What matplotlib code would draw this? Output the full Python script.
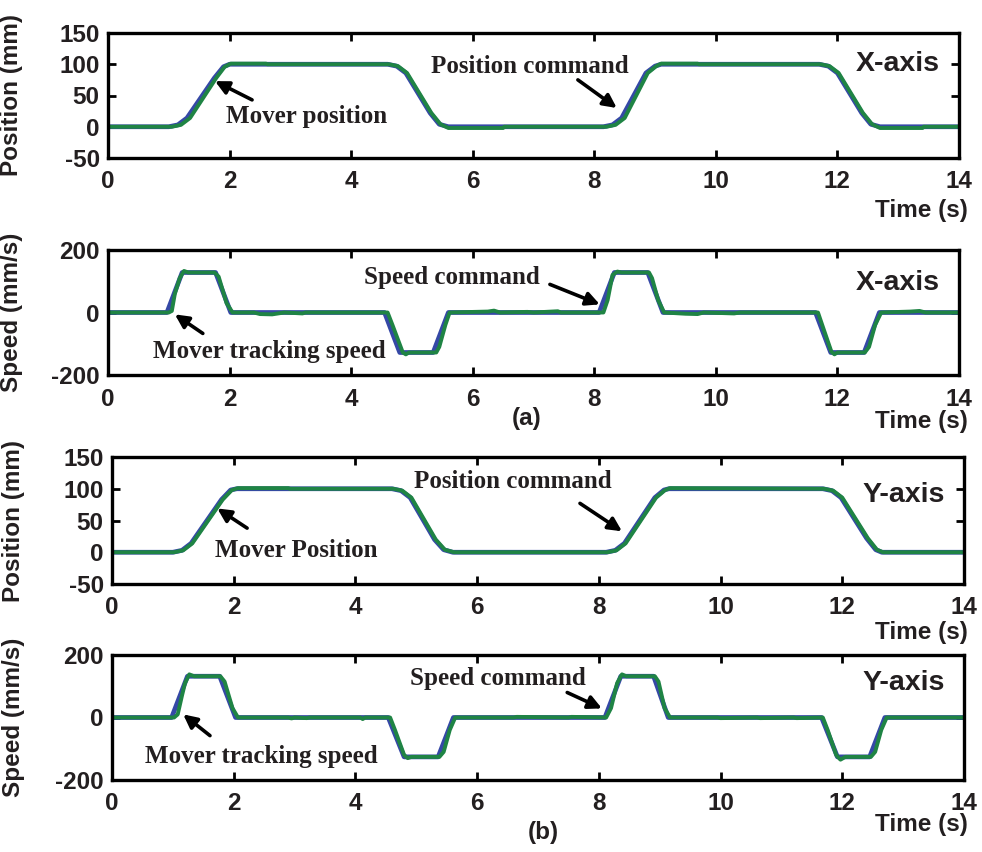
import numpy as np
import matplotlib
matplotlib.use('Agg')
import matplotlib.pyplot as plt

# fonts: Arial-like for axes, Times-like for the annotations
plt.rcParams['font.family'] = 'Liberation Sans'
plt.rcParams['font.weight'] = 'bold'
plt.rcParams['axes.unicode_minus'] = False
serif = 'Liberation Serif'

blue = '#3548a6'
green = '#1f8444'
ink = '#231f20'

# ---------------- data ----------------
# X-axis position (mm)
xpos_cmd_t = [0, 1.0, 1.15, 1.3, 1.75, 1.9, 2.0, 4.6, 4.75, 4.9, 5.3, 5.45, 5.6,
              8.15, 8.3, 8.45, 8.85, 9.0, 9.1, 11.7, 11.85, 12.0, 12.4, 12.55, 12.7, 14]
xpos_cmd = [0, 0, 3, 14, 78, 96, 100, 100, 97, 86, 22, 4, 0,
            0, 3, 14, 86, 97, 100, 100, 97, 86, 22, 4, 0, 0]
xpos_mov_t = [0, 1.05, 1.2, 1.35, 1.78, 1.92, 2.02, 2.6, 2.62, 4.62, 4.77, 4.92, 5.32, 5.47,
              5.6, 6.5, 6.52, 8.2, 8.35, 8.5, 8.88, 9.02, 9.1, 9.7, 9.72, 11.72, 11.87,
              12.02, 12.42, 12.57, 12.7, 13.4, 13.42, 14]
xpos_mov = [0, 0, 3, 14, 78, 96, 101, 101, 100, 100, 97, 86, 22, 4,
            -2, -2, 0, 0, 3, 14, 86, 97, 101, 101, 100, 100, 97,
            86, 22, 4, -2, -2, 0, 0]

# X-axis speed (mm/s)
xspd_cmd_t = [0, 0.97, 1.22, 1.77, 2.02, 4.55, 4.8, 5.35, 5.6, 8.08, 8.33, 8.88, 9.13,
              11.64, 11.89, 12.44, 12.69, 14]
xspd_cmd = [0, 0, 128, 128, 0, 0, -128, -128, 0, 0, 128, 128, 0, 0, -128, -128, 0, 0]
xspd_mov_t = [0, 1.0, 1.05, 1.1, 1.18, 1.25, 1.32, 1.75, 1.82, 1.95, 2.05, 2.4, 2.5, 2.7,
              2.8, 2.9, 3.2, 3.25, 4.6, 4.68, 4.85, 4.9, 4.95, 5.4, 5.45, 5.55, 5.62,
              6.25, 6.35, 6.45, 6.9, 7.0, 7.4, 7.45, 8.15, 8.22, 8.3, 8.38, 8.45, 8.9,
              8.95, 9.05, 9.15, 9.5, 9.7, 9.8, 10.3, 10.4, 11.68, 11.75, 11.9, 11.95,
              12.0, 12.45, 12.52, 12.62, 12.72, 13.2, 13.35, 13.45, 14]
xspd_mov = [0, 0, 5, 60, 110, 133, 128, 128, 115, 30, 0, 0, -5, -6,
            -3, 0, -3, 0, 0, -40, -128, -134, -128, -128, -110, -40, 0,
            3, 6, 0, 2, 0, 4, 0, 0, 40, 120, 131, 128, 128,
            110, 40, 0, -4, -5, 0, -3, 0, 0, -40, -125, -134,
            -128, -128, -110, -40, 0, 3, 5, 0, 0]

# Y-axis position (mm)
ypos_cmd_t = [0, 1.0, 1.15, 1.3, 1.8, 1.95, 2.05, 4.6, 4.75, 4.9, 5.3, 5.45, 5.6,
              8.12, 8.27, 8.42, 8.92, 9.07, 9.15, 11.68, 11.83, 11.98, 12.4, 12.55, 12.65, 14]
ypos_cmd = [0, 0, 3, 14, 83, 98, 100, 100, 97, 86, 20, 4, 0,
            0, 3, 14, 86, 98, 100, 100, 97, 86, 22, 4, 0, 0]
ypos_mov_t = [0, 1.02, 1.17, 1.32, 1.82, 1.97, 2.07, 2.9, 2.92, 4.62, 4.77, 4.92, 5.32,
              5.47, 5.62, 8.14, 8.29, 8.44, 8.94, 9.09, 9.17, 11.7, 11.85, 12.0, 12.42,
              12.57, 12.67, 14]
ypos_mov = [0, 0, 3, 14, 83, 98, 101, 101, 100, 100, 97, 86, 20,
            4, 0, 0, 3, 14, 86, 98, 101, 100, 97, 86, 22,
            4, 0, 0]

# Y-axis speed (mm/s)
yspd_cmd_t = [0, 0.98, 1.24, 1.77, 2.03, 4.54, 4.8, 5.36, 5.61, 8.1, 8.36, 8.9, 9.14,
              11.66, 11.92, 12.45, 12.7, 14]
yspd_cmd = [0, 0, 132, 132, 0, 0, -126, -126, 0, 0, 132, 132, 0, 0, -126, -126, 0, 0]
yspd_mov_t = [0, 1.02, 1.08, 1.15, 1.2, 1.27, 1.35, 1.78, 1.85, 1.98, 2.07, 2.9, 2.95,
              3.0, 3.2, 3.25, 4.08, 4.12, 4.16, 4.57, 4.65, 4.8, 4.86, 4.92, 5.38, 5.45,
              5.55, 5.64, 6.6, 6.65, 7.5, 7.55, 8.12, 8.2, 8.3, 8.38, 8.45, 8.92, 8.98,
              9.08, 9.17, 9.95, 10.0, 10.6, 10.65, 11.2, 11.25, 11.68, 11.76, 11.9, 11.97,
              12.05, 12.47, 12.54, 12.64, 12.73, 14]
yspd_mov = [0, 0, 10, 70, 110, 138, 132, 132, 115, 30, 0, 0, -3,
            0, -2, 0, 0, -5, 0, 0, -40, -120, -130, -126, -126, -110,
            -40, 0, 0, 2, 0, 2, 0, 30, 110, 138, 132, 132, 115,
            30, 0, 0, -2, 0, -2, 0, -2, 0, -40, -120, -135,
            -126, -126, -110, -40, 0, 0]

time_ticks = [0, 2, 4, 6, 8, 10, 12, 14]

# ---------------- figure ----------------
W, H = 982, 852
fig = plt.figure(figsize=(W / 100, H / 100), dpi=100)


def px_axes(left, top, right, bottom):
    return fig.add_axes([left / W, 1 - bottom / H, (right - left) / W, (bottom - top) / H])


def style(ax, ylim, yticks, ylabel, labx):
    ax.set_xlim(0, 14)
    ax.set_ylim(*ylim)
    ax.set_xticks(time_ticks)
    ax.set_yticks(yticks)
    ax.tick_params(direction='in', top=True, right=True, length=6, width=2,
                   labelsize=17.5, labelcolor=ink)
    ax.tick_params(axis='x', pad=9)
    ax.tick_params(axis='y', pad=6)
    for s in ax.spines.values():
        s.set_linewidth(2.4)
    for lab in ax.get_xticklabels() + ax.get_yticklabels():
        lab.set_fontweight('bold')
    ax.set_ylabel(ylabel, fontsize=17.5, fontweight='bold', color=ink)
    ax.yaxis.set_label_coords(labx, 0.5)


def arrow(ax, head, tail):
    ax.annotate('', xy=head, xytext=tail,
                arrowprops=dict(arrowstyle='-|>', color='black', lw=2.6,
                                mutation_scale=20, shrinkA=0, shrinkB=0))


def note(ax, x, y, s, ha='left'):
    ax.text(x, y, s, family=serif, fontweight='bold', fontsize=18,
            color=ink, ha=ha, va='center')


def tag(ax, x, y, s):
    ax.text(x, y, s, fontsize=20.5, fontweight='bold', color=ink,
            ha='right', va='center')


# panel 1: X position
ax1 = px_axes(108, 33, 959, 158)
ax1.plot(xpos_cmd_t, xpos_cmd, color=blue, lw=3.4)
ax1.plot(xpos_mov_t, xpos_mov, color=green, lw=2.8)
style(ax1, (-50, 150), [-50, 0, 50, 100, 150], 'Position (mm)', -0.1)
note(ax1, 6.94, 97, 'Position command', ha='center')
arrow(ax1, (8.37, 30), (7.73, 75))
note(ax1, 1.94, 16, 'Mover position')
arrow(ax1, (1.76, 73), (2.37, 43))
tag(ax1, 13.68, 100, 'X-axis')

# panel 2: X speed
ax2 = px_axes(108, 250, 959, 375)
ax2.plot(xspd_cmd_t, xspd_cmd, color=blue, lw=3.4)
ax2.plot(xspd_mov_t, xspd_mov, color=green, lw=2.8)
style(ax2, (-200, 200), [-200, 0, 200], 'Speed (mm/s)', -0.1)
note(ax2, 5.66, 112, 'Speed command', ha='center')
arrow(ax2, (8.09, 26), (7.27, 90))
note(ax2, 0.74, -125, 'Mover tracking speed')
arrow(ax2, (1.10, -6), (1.56, -67))
tag(ax2, 13.68, 93, 'X-axis')

# panel 3: Y position
ax3 = px_axes(112, 457, 964, 584)
ax3.plot(ypos_cmd_t, ypos_cmd, color=blue, lw=3.4)
ax3.plot(ypos_mov_t, ypos_mov, color=green, lw=2.8)
style(ax3, (-50, 150), [-50, 0, 50, 100, 150], 'Position (mm)', -0.102)
note(ax3, 6.59, 112, 'Position command', ha='center')
arrow(ax3, (8.38, 33), (7.69, 77))
note(ax3, 1.69, 2, 'Mover Position')
arrow(ax3, (1.73, 69), (2.22, 38))
tag(ax3, 13.69, 90, 'Y-axis')

# panel 4: Y speed
ax4 = px_axes(112, 655, 964, 780)
ax4.plot(yspd_cmd_t, yspd_cmd, color=blue, lw=3.4)
ax4.plot(yspd_mov_t, yspd_mov, color=green, lw=2.8)
style(ax4, (-200, 200), [-200, 0, 200], 'Speed (mm/s)', -0.102)
note(ax4, 6.34, 125, 'Speed command', ha='center')
arrow(ax4, (8.05, 29), (7.48, 80))
note(ax4, 0.54, -125, 'Mover tracking speed')
arrow(ax4, (1.17, 10), (1.61, -58))
tag(ax4, 13.69, 109, 'Y-axis')

# time labels and panel tags
for ypx in [210, 422, 632, 825]:
    fig.text(968 / W, 1 - ypx / H, 'Time (s)', fontsize=17.5, fontweight='bold',
             color=ink, ha='right', va='center')
fig.text(527 / W, 1 - 418 / H, '(a)', fontsize=17.5, fontweight='bold',
         color=ink, ha='center', va='center')
fig.text(543 / W, 1 - 832 / H, '(b)', fontsize=17.5, fontweight='bold',
         color=ink, ha='center', va='center')

fig.savefig('out.png', dpi=100)
